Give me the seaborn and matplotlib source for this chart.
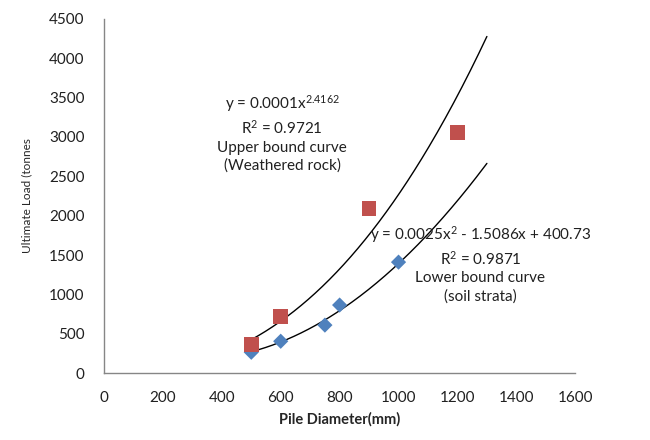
import pandas as pd
import matplotlib.pyplot as plt
import numpy as np
import seaborn as sns

lower_x = [500, 600, 750, 800, 1000]
lower_y = [265, 405, 610, 865, 1410]
upper_x = [500, 600, 900, 1200]
upper_y = [365, 722, 2095, 3060]

# Trendline coefficients (power fit for upper, quadratic for lower)
upper_coef = [0.000128, 2.4162]
lower_coef = [0.0025, -1.5086, 400.73]
trend_x = np.linspace(500, 1300, 200)

upper_df = pd.DataFrame({'x': trend_x, 'y': upper_coef[0] * trend_x ** upper_coef[1]})
lower_df = pd.DataFrame({'x': trend_x, 'y': np.polyval(lower_coef, trend_x)})

sns.set_style('white')
plt.rcParams['font.family'] = ['Lato', 'DejaVu Sans']
plt.rcParams['mathtext.default'] = 'regular'

fig = plt.figure(figsize=(6.5, 4.4), dpi=100)
ax = fig.add_axes([0.16, 0.152, 0.725, 0.805])

sns.lineplot(data=upper_df, x='x', y='y', color='black', linewidth=1, ax=ax)
sns.lineplot(data=lower_df, x='x', y='y', color='black', linewidth=1, ax=ax)
sns.scatterplot(x=lower_x, y=lower_y, marker='D', color='#4F81BD', s=60,
                edgecolor='none', ax=ax, zorder=3)
sns.scatterplot(x=upper_x, y=upper_y, marker='s', color='#C0504D', s=110,
                edgecolor='none', ax=ax, zorder=4)

ax.set_xlim(0, 1600)
ax.set_ylim(0, 4500)
ax.set_xticks(np.arange(0, 1601, 200))
ax.set_yticks(np.arange(0, 4501, 500))
ax.tick_params(axis='both', direction='out', length=5, width=1, color='#868686',
               labelsize=11, labelcolor='#202020')
ax.tick_params(axis='x', pad=8)
ax.tick_params(axis='y', pad=9)

for side in ['top', 'right']:
    ax.spines[side].set_visible(False)
for side in ['left', 'bottom']:
    ax.spines[side].set_color('#868686')
    ax.spines[side].set_linewidth(1)

ax.set_xlabel('Pile Diameter(mm)', fontsize=10.5, fontweight='bold', labelpad=5)
ax.set_ylabel('Ultimate Load (tonnes', fontsize=8.5, labelpad=12)

upper_text = ('y = 0.0001x$^{2.4162}$\nR$^{2}$ = 0.9721\n'
              'Upper bound curve\n(Weathered rock)')
lower_text = ('y = 0.0025x$^{2}$ - 1.5086x + 400.73\nR$^{2}$ = 0.9871\n'
              'Lower bound curve\n(soil strata)')
ax.text(605, 3050, upper_text, ha='center', va='center', fontsize=11,
        linespacing=1.35, color='#202020')
ax.text(1278, 1390, lower_text, ha='center', va='center', fontsize=11,
        linespacing=1.35, color='#202020')

plt.savefig('out.png', dpi=100)
